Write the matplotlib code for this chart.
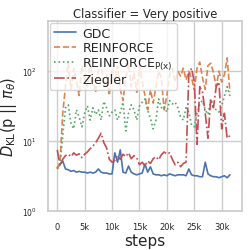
import numpy as np
import matplotlib
matplotlib.use("Agg")
import matplotlib.pyplot as plt
import seaborn as sns

steps = np.arange(0, 32000, 500)

gdc = [4.2, 4.6, 5.2, 4.0, 3.9, 3.7, 3.8, 3.6, 3.7, 3.6,
       3.6, 3.5, 3.6, 3.5, 3.6, 4.0, 3.6, 3.5, 3.5, 3.4,
       3.4, 6.8, 5.0, 7.5, 3.6, 3.5, 4.4, 3.6, 3.4, 3.3,
       3.4, 3.5, 4.7, 3.6, 4.3, 3.4, 3.3, 3.3, 3.2, 3.3,
       3.2, 3.4, 3.3, 3.2, 3.3, 3.3, 3.3, 3.2, 4.0, 3.3,
       3.2, 3.2, 3.1, 3.1, 5.0, 3.4, 3.2, 3.1, 3.1, 3.0,
       3.1, 3.2, 3.0, 3.3]

reinforce = [4.0, 5.0, 25, 60, 130, 55, 110, 70, 45, 120,
             80, 60, 140, 75, 50, 100, 130, 60, 90, 45,
             110, 70, 120, 55, 38, 80, 130, 60, 95, 50,
             120, 70, 45, 28, 55, 35, 60, 100, 80, 28,
             45, 90, 110, 70, 100, 85, 110, 75, 100, 80,
             55, 110, 135, 80, 55, 120, 130, 95, 60, 100,
             70, 90, 155, 50]

reinforce_px = [4.0, 4.5, 12, 30, 33, 18, 15, 28, 22, 16,
                25, 32, 20, 30, 24, 28, 20, 37, 30, 23,
                26, 28, 20, 26, 36, 14, 25, 33, 28, 20,
                32, 36, 40, 28, 21, 15, 20, 40, 30, 32,
                26, 38, 34, 36, 30, 22, 20, 30, 26, 17,
                16, 25, 34, 38, 28, 24, 40, 30, 28, 26,
                32, 44, 60, 44]

ziegler = [7.5, 4.5, 5.5, 6.2, 6.5, 6.0, 6.8, 6.3, 6.6, 5.8,
           6.5, 7.0, 7.8, 8.5, 9.5, 11.0, 13.0, 9.5, 8.0, 5.5,
           5.0, 5.3, 6.2, 5.5, 6.5, 6.0, 6.8, 5.6, 6.2, 5.8,
           4.6, 5.0, 4.4, 5.2, 4.8, 5.6, 6.0, 5.4, 6.4, 7.0,
           6.5, 6.8, 5.5, 4.6, 5.0, 4.3, 4.8, 5.0, 90, 110,
           70, 9, 60, 50, 25, 11, 40, 30, 60, 70,
           15, 25, 11, 12]

xtick_values = [0, 5000, 10000, 15000, 20000, 25000, 30000]
xtick_labels = ["0", "5k", "10k", "15k", "20k", "25k", "30k"]

sns.set_theme(style="whitegrid")
plt.rcParams['font.family'] = ['DejaVu Sans']

fig = plt.figure(figsize=(2.51, 2.51), dpi=100)
ax = fig.add_axes([0.191, 0.155, 0.773, 0.757])

pal = sns.color_palette("deep")
lw = 1.2
ax.plot(steps, gdc, color=pal[0], lw=lw, ls='-', label='GDC')
ax.plot(steps, reinforce, color=pal[1], lw=lw, ls=(0, (3.7, 1.6)), label='REINFORCE')
ax.plot(steps, reinforce_px, color=pal[2], lw=lw, ls=(0, (1, 1.65)), label=r'REINFORCE$_{\mathrm{P(x)}}$')
ax.plot(steps, ziegler, color=pal[3], lw=lw, ls=(0, (6.4, 1.6, 1, 1.6)), label='Ziegler')

ax.set_yscale('log')
ax.set_ylim(1, 520)
ax.set_xlim(-1700, 33700)
ax.set_xticks(xtick_values)
ax.set_xticklabels(xtick_labels)
ax.yaxis.set_minor_locator(matplotlib.ticker.NullLocator())
ax.tick_params(axis='x', labelsize=6, pad=2)
ax.tick_params(axis='y', labelsize=5.5, pad=2)

ax.set_xlabel('steps', fontsize=11, labelpad=1)
ax.set_ylabel(r'$D_{\mathrm{KL}}(\mathrm{p}\ ||\ \pi_\theta)$', fontsize=10.5, labelpad=2)
ax.set_title('Classifier = Very positive', fontsize=8.3, pad=3)

leg = ax.legend(loc='upper left', fontsize=9, framealpha=0.8, borderpad=0.3,
                labelspacing=0.1, handlelength=1.8, handletextpad=0.5,
                borderaxespad=0.15)

fig.savefig('out.png', dpi=100)
